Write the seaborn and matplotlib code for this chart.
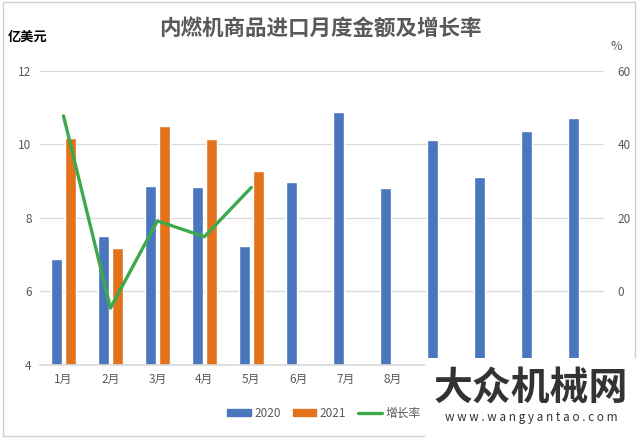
import numpy as np
import pandas as pd
import matplotlib
matplotlib.use("Agg")
import matplotlib.pyplot as plt
import seaborn as sns
from matplotlib.patches import Patch, Rectangle
from matplotlib.lines import Line2D

# ---------------------------------------------------------------- data
months = ["1月", "2月", "3月", "4月", "5月", "6月", "7月", "8月", "9月", "10月", "11月", "12月"]
val_2020 = [6.88, 7.51, 8.87, 8.84, 7.24, 8.98, 10.89, 8.82, 10.12, 9.12, 10.37, 10.72]
val_2021 = [10.18, 7.18, 10.50, 10.15, 9.28, None, None, None, None, None, None, None]
growth = [47.8, -4.5, 19.2, 14.9, 28.3]

BLUE, ORANGE, GREEN = "#4A76BE", "#E2731C", "#3EA94B"
GRID = "#D9D9D9"
TXT = "#595959"

sns.set_theme(style="white")
plt.rcParams["font.family"] = ["Noto Sans CJK SC", "DejaVu Sans"]

df = pd.DataFrame({
    "month": months * 2,
    "value": val_2020 + val_2021,
    "year": ["2020"] * 12 + ["2021"] * 12,
})

fig = plt.figure(figsize=(6.4, 4.38), dpi=100)
ax = fig.add_axes([0.0625, 0.1667, 0.8805, 0.6713])

sns.barplot(data=df, x="month", y="value", hue="year", order=months,
            palette={"2020": BLUE, "2021": ORANGE}, width=0.58, gap=0.2,
            saturation=1, legend=False, ax=ax)
ax.set_ylim(4, 12)
ax.set_yticks([4, 6, 8, 10, 12])
ax.set_xlim(-0.5, 11.5)
ax.set_xlabel(""); ax.set_ylabel("")
ax.yaxis.grid(True, color=GRID, lw=0.9)
ax.set_axisbelow(True)
for s in ["left", "right", "top"]:
    ax.spines[s].set_visible(False)
ax.spines["bottom"].set_color(GRID)
ax.tick_params(axis="both", length=0, labelsize=8.5, labelcolor=TXT, pad=6)
# labels 9月-12月 sit under the watermark box in the source image
for lab in ax.get_xticklabels()[8:]:
    lab.set_visible(False)

ax2 = ax.twinx()
sns.lineplot(x=np.arange(len(growth)), y=growth, color=GREEN, lw=2.4, ax=ax2)
ax2.set_ylim(-20, 60)
ax2.set_yticks([0, 20, 40, 60])
ax2.set_xlim(-0.5, 11.5)
for s in ["left", "right", "top", "bottom"]:
    ax2.spines[s].set_visible(False)
ax2.tick_params(axis="y", length=0, labelsize=8.5, labelcolor=TXT, pad=10)

fig.text(0.5, 0.936, "内燃机商品进口月度金额及增长率", ha="center", va="center",
         fontsize=15.5, fontweight="bold", color=TXT)
fig.text(0.012, 0.915, "亿美元", ha="left", va="center", fontsize=9.5,
         fontweight="bold", color="black")
fig.text(0.963, 0.893, "%", ha="center", va="center", fontsize=9, color=TXT)

handles = [Patch(color=BLUE, label="2020"), Patch(color=ORANGE, label="2021"),
           Line2D([], [], color=GREEN, lw=2.4, label="增长率")]
fig.legend(handles=handles, loc="center", bbox_to_anchor=(0.506, 0.057), ncol=3,
           frameon=False, fontsize=8.5, handlelength=2.0, handleheight=0.6,
           columnspacing=1.0, handletextpad=0.3, labelcolor=TXT)

# outer chart frame
fig.patches.append(Rectangle((0.005, 0.005), 0.987, 0.99, transform=fig.transFigure,
                             fill=False, ec="#D0D0D0", lw=1))

# watermark box
fig.patches.append(Rectangle((0.664, 0.0), 0.336, 0.183, transform=fig.transFigure,
                             fc="white", ec="none", zorder=5))
fig.text(0.83, 0.114, "大众机械网", ha="center", va="center", fontsize=28,
         fontweight="bold", color="#333333", zorder=6)
fig.text(0.83, 0.046, "w w w . w a n g y a n t a o . c o m", ha="center", va="center",
         fontsize=8.5, color="#333333", zorder=6)

fig.savefig("out.png", dpi=100)
